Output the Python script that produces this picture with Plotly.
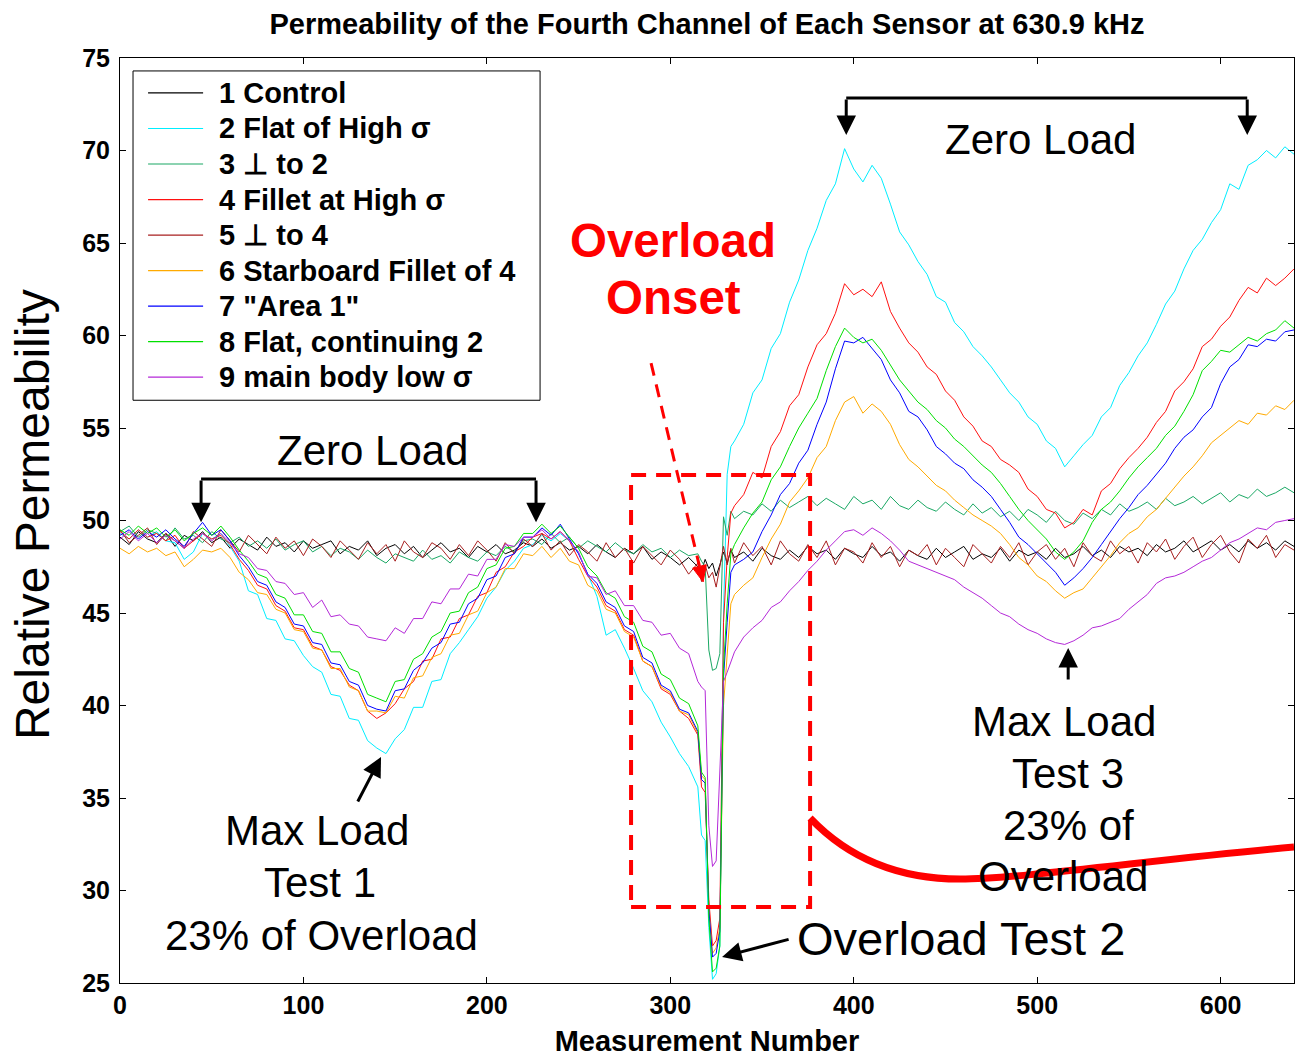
import plotly.graph_objects as go

# Measurement numbers: every 5th sample, finer sampling through the overload dip
measurement = (list(range(0, 316, 5))
               + [317, 319, 321, 323, 325, 327, 329, 331, 333]
               + list(range(335, 641, 5)))

control = [
    49.1, 48.7, 49.4, 49.0, 48.8, 49.3, 48.6, 49.2, 48.9, 49.4,
    48.8, 49.1, 48.5, 49.0, 48.7, 48.4, 49.1, 48.6, 48.8, 48.3,
    48.9, 48.5, 48.7, 48.9, 48.2, 48.6, 48.4, 48.9, 48.1, 48.5,
    48.7, 48.2, 48.6, 48.0, 48.4, 48.8, 48.3, 48.5, 48.0, 48.6,
    48.3, 48.7, 48.2, 48.4, 48.8, 48.6, 49.0, 48.5, 48.8, 48.4,
    48.6, 48.2, 48.7, 48.3, 48.0, 48.5, 48.2, 48.6, 47.9, 48.3,
    48.0, 47.6, 48.0, 47.5,
    47.3, 47.9, 47.4, 47.7, 47.0, 47.6, 48.3, 47.7, 48.4,
    48.0, 48.3, 47.8, 48.5, 48.1, 47.9, 48.4, 48.0, 48.6, 48.2,
    48.4, 47.9, 48.5, 48.2, 48.0, 48.6, 48.1, 48.3, 47.8, 48.4,
    48.1, 47.9, 48.5, 48.0, 48.3, 48.6, 47.9, 48.2, 48.0, 48.5,
    47.8, 48.4, 48.1, 48.3, 47.9, 48.5, 48.0, 48.2, 48.6, 48.1,
    48.4, 48.0, 48.6, 48.3, 48.5, 48.1, 48.7, 48.3, 48.5, 48.9,
    48.3, 48.6, 48.9, 48.4, 48.7, 48.3, 48.9, 48.5, 48.8, 48.4,
    48.9, 48.6,
]

flat_high = [
    49.3, 49.0, 49.5, 49.1, 49.4, 48.9, 48.8, 47.9, 48.3, 49.3,
    49.0, 49.3, 48.6, 47.8, 46.2, 46.0, 44.7, 44.6, 43.6, 43.5,
    42.7, 42.1, 41.8, 40.6, 40.5, 39.3, 39.2, 38.1, 37.7, 37.4,
    38.2, 38.7, 39.9, 39.9, 41.3, 41.4, 42.8, 43.4, 44.1, 44.8,
    45.8, 46.4, 47.3, 47.8, 48.5, 48.7, 49.2, 48.9, 49.3, 48.9,
    48.2, 47.1, 45.9, 43.8, 44.1, 43.1, 42.0, 40.8, 40.2, 39.1,
    38.3, 37.4, 36.7, 35.6,
    33.0, 32.7, 28.0, 25.2, 25.5, 27.0, 45.0, 52.5, 54.0,
    54.3, 55.2, 56.9, 57.6, 59.3, 60.1, 61.8, 63.0, 64.6, 65.8,
    67.3, 68.2, 70.1, 69.0, 68.3, 69.2, 68.5, 67.1, 65.6, 64.9,
    64.0, 63.3, 62.1, 61.8, 60.7, 60.2, 59.4, 58.9, 58.3, 57.6,
    56.9, 56.4, 55.6, 55.2, 54.3, 53.9, 52.9, 53.5, 54.1, 54.6,
    55.6, 56.1, 57.3, 58.0, 58.9, 59.6, 60.6, 61.7, 62.4, 63.6,
    64.6, 65.2, 66.1, 66.8, 68.2, 67.9, 69.2, 69.5, 70.0, 69.6,
    70.2, 69.8,
]

perp_to_2 = [
    49.4, 49.7, 49.1, 49.5, 49.3, 48.9, 49.6, 49.0, 49.2, 48.8,
    49.4, 49.0, 48.8, 49.1, 48.6, 48.9, 48.5, 49.0, 48.4, 48.7,
    48.9, 48.3, 48.6, 48.1, 48.5, 48.3, 47.9, 48.4, 48.0, 47.7,
    48.2, 48.0, 47.8, 48.4, 47.9, 48.1, 47.7, 48.3, 48.0, 47.8,
    48.3, 48.1, 48.6, 48.3, 48.9, 49.0, 48.7, 49.3, 48.8, 49.1,
    48.5, 48.9, 48.6, 48.3, 48.8, 48.4, 48.2, 48.7, 48.3, 48.5,
    48.0, 48.4, 48.1, 48.2,
    47.8, 47.5, 43.0, 41.9, 42.0, 42.8, 50.2, 49.2, 50.5,
    50.1, 50.5, 50.3, 50.9, 50.5, 51.1, 50.7, 51.0, 51.3, 50.8,
    51.2, 50.9, 50.6, 51.3, 50.9, 51.1, 50.6, 51.3, 50.8, 50.6,
    51.1, 50.7, 50.5, 51.0, 50.6, 50.3, 50.9, 50.4, 50.7, 50.2,
    50.5, 50.0, 50.6, 50.3, 49.9, 50.5, 50.0, 49.8, 50.4, 50.1,
    50.6, 50.3, 50.9, 50.5, 50.7, 51.0, 50.6, 51.2, 50.8, 51.0,
    51.3, 50.9, 51.2, 51.5, 51.0, 51.4, 51.2, 51.7, 51.3, 51.5,
    51.8, 51.5,
]

fillet_high = [
    49.4, 49.0, 49.5, 49.1, 49.3, 48.9, 49.2, 48.5, 48.9, 49.3,
    49.0, 49.2, 48.7, 47.9, 47.3, 46.5, 46.3, 45.4, 45.1, 44.2,
    44.1, 43.2, 43.0, 42.1, 41.9, 41.1, 40.8, 39.7, 39.3, 39.6,
    40.1, 40.9, 41.3, 42.4, 42.5, 43.6, 43.7, 44.7, 44.9, 45.9,
    46.1, 47.2, 47.5, 48.3, 48.6, 49.1, 49.3, 49.0, 49.4, 48.9,
    47.9, 47.0, 46.4, 45.4, 45.1, 44.1, 43.8, 42.4, 42.1, 40.9,
    40.6, 39.7, 39.3, 38.4,
    35.6, 35.3, 29.5, 27.0, 27.3, 28.5, 44.5, 48.0, 50.4,
    50.8, 51.4, 52.6, 52.3, 54.0, 54.8, 56.2, 56.8, 58.3, 59.5,
    60.1, 61.2, 62.8, 62.2, 62.5, 62.1, 62.9, 61.3, 60.4, 59.6,
    59.1, 58.3, 57.9, 57.0, 56.5, 55.6, 55.1, 54.3, 54.0, 53.3,
    53.0, 52.6, 51.7, 51.3, 50.6, 50.4, 49.6, 49.9, 50.6, 50.3,
    51.6, 52.0, 52.8, 53.4, 53.9, 54.5, 55.3, 55.9, 57.0, 57.5,
    58.2, 59.4, 59.8, 60.5, 61.0, 61.9, 62.6, 62.3, 63.1, 62.7,
    63.1, 63.6,
]

perp_to_4 = [
    49.5, 48.8, 49.2, 49.6, 48.7, 49.3, 48.9, 48.5, 49.4, 49.0,
    48.6, 49.5, 48.9, 48.3, 49.2, 48.7, 48.2, 49.1, 48.5, 48.9,
    48.1, 49.0, 48.6, 48.0, 48.9, 48.4, 47.9, 48.8, 48.2, 48.7,
    47.8, 48.9, 48.3, 48.0, 48.8, 48.5, 47.9, 48.7, 48.1, 48.9,
    48.4, 47.8, 48.8, 48.2, 49.0, 48.6, 49.3, 48.4, 48.9, 48.1,
    48.7, 48.3, 47.8, 48.8, 48.0, 48.5, 47.7, 48.6, 48.1, 47.6,
    48.4, 47.9, 47.1, 47.7,
    46.7, 47.6, 46.9, 47.2, 46.4, 47.5, 48.6, 47.6, 48.5,
    47.7, 48.8, 48.1, 48.6, 47.6, 48.9, 48.2, 47.8, 48.7, 48.0,
    48.9, 47.6, 48.5, 48.3, 47.7, 48.8, 48.0, 48.6, 47.5, 48.4,
    48.1, 48.7, 47.6, 48.5, 48.0, 47.5, 48.7, 48.2, 47.7, 48.6,
    48.0, 48.8, 47.6, 48.3, 48.7, 47.9, 48.5, 47.5, 48.8, 48.1,
    47.8, 48.9, 48.2, 48.6, 47.7, 48.8, 48.3, 49.0, 47.9, 48.6,
    49.1, 48.0, 48.7, 49.2, 48.3, 47.7, 49.0, 48.5, 49.2, 48.0,
    48.7, 48.4,
]

starboard_fillet = [
    48.5, 48.2, 48.6, 48.3, 48.5, 48.1, 48.3, 47.5, 47.9, 48.4,
    48.3, 48.5, 48.0, 47.2, 46.8, 46.1, 46.0, 45.2, 45.0, 44.1,
    44.0, 43.1, 43.0, 42.0, 42.0, 41.0, 40.8, 39.7, 39.7, 39.6,
    40.5, 40.4, 41.5, 41.6, 42.6, 42.8, 43.8, 43.9, 44.9, 45.1,
    46.1, 46.4, 47.4, 47.4, 48.2, 48.1, 48.6, 48.0, 48.5, 47.8,
    47.6, 46.5, 46.2, 45.2, 45.0, 44.0, 43.7, 42.4, 42.1, 41.0,
    40.7, 39.7, 39.5, 38.5,
    36.2, 36.0, 29.0, 26.6, 26.9, 28.0, 40.0, 42.5, 45.5,
    46.0, 46.5, 46.9, 48.0, 49.0, 49.8, 51.0, 51.6, 52.3, 53.4,
    54.0, 55.4, 56.4, 56.7, 55.8, 56.3, 55.9, 55.2, 54.1, 53.3,
    52.9, 52.4, 51.9, 51.6, 51.1, 50.7, 50.3, 50.0, 49.7, 49.3,
    48.7, 48.0, 47.6, 47.0, 46.7, 46.2, 45.8, 46.1, 46.3, 46.9,
    47.5, 48.1, 48.8, 49.3, 49.6, 50.2, 50.6, 51.2, 51.8, 52.4,
    52.9, 53.5, 54.2, 54.6, 55.0, 55.4, 55.2, 55.8, 55.7, 56.2,
    56.0, 56.5,
]

area_1 = [
    49.2, 49.5, 49.0, 49.4, 49.1, 49.5, 49.0, 48.6, 49.3, 49.9,
    49.2, 49.5, 48.9, 48.1, 47.5, 46.7, 46.5, 45.6, 45.3, 44.4,
    44.3, 43.4, 43.3, 42.3, 42.2, 41.3, 41.1, 40.0, 39.8, 39.7,
    40.8, 40.9, 41.9, 42.3, 43.1, 43.4, 44.4, 44.5, 45.5, 45.8,
    46.8, 47.0, 48.0, 48.2, 49.1, 49.1, 49.6, 49.2, 49.8, 49.0,
    48.2, 47.1, 46.6, 45.6, 45.3, 44.3, 44.0, 42.6, 42.3, 41.1,
    40.8, 39.8, 39.6, 38.6,
    36.0, 35.8, 29.0, 26.4, 26.6, 27.8, 41.5, 44.5, 47.2,
    47.6, 47.9, 48.3, 49.4, 50.3, 51.4, 52.0, 53.1, 53.8, 55.2,
    56.4, 58.2, 59.7, 59.6, 59.9, 59.3, 58.7, 57.6, 56.9, 55.9,
    55.6, 54.9, 54.0, 53.6, 53.1, 52.8, 52.2, 51.8, 51.3, 50.6,
    49.9, 49.1, 48.7, 48.2, 47.7, 47.2, 46.5, 46.9, 47.4, 48.0,
    48.7, 49.4, 50.1, 50.7, 51.4, 51.9, 52.5, 53.1, 53.9, 54.5,
    54.9, 55.6, 56.1, 57.4, 58.3, 58.7, 59.5, 59.4, 59.8, 59.7,
    60.2, 60.3,
]

flat_continuing = [
    49.5, 49.2, 49.7, 49.3, 49.6, 49.1, 49.5, 48.9, 49.3, 49.6,
    49.2, 49.7, 49.1, 48.4, 47.8, 47.1, 46.9, 46.0, 45.8, 44.9,
    44.9, 44.0, 43.9, 42.9, 42.9, 42.0, 41.8, 40.6, 40.4, 40.2,
    41.3, 41.4, 42.5, 42.8, 43.7, 44.0, 45.0, 45.1, 46.1, 46.4,
    47.4, 47.6, 48.5, 48.6, 49.3, 49.3, 49.8, 49.3, 49.7, 49.1,
    48.5, 47.5, 47.0, 46.1, 45.8, 44.8, 44.5, 43.2, 42.9, 41.7,
    41.4, 40.4, 40.1, 38.9,
    36.4, 36.1, 28.5, 25.6, 25.8, 27.0, 42.0, 45.5, 48.2,
    48.7, 49.6, 50.4, 51.0, 52.2, 52.9, 54.0, 55.0, 55.8, 56.6,
    58.1, 59.4, 60.4, 59.9, 59.6, 59.8, 59.2, 58.4, 57.6, 57.0,
    56.4, 56.0, 55.4, 55.0, 54.4, 54.0, 53.5, 53.0, 52.6, 52.0,
    51.3, 50.6, 50.0, 49.5, 49.0, 48.3, 47.9, 48.3, 48.9, 49.9,
    50.6, 51.0, 51.6, 52.3, 52.9, 53.4, 53.9, 54.6, 55.1, 55.9,
    56.8, 58.1, 58.6, 59.2, 59.1, 59.5, 59.9, 59.7, 60.1, 60.3,
    60.8, 60.4,
]

main_body_low = [
    49.0, 49.4, 48.9, 49.3, 48.8, 49.2, 48.9, 48.5, 49.0, 49.3,
    48.9, 49.3, 48.8, 48.2, 48.0, 47.4, 47.3, 46.7, 46.6, 46.0,
    46.1, 45.3, 45.7, 44.8, 44.9, 44.4, 44.3, 43.7, 43.6, 43.5,
    44.2, 43.9, 44.7, 44.7, 45.6, 45.5, 46.3, 46.3, 47.1, 47.0,
    47.9, 47.9, 48.7, 48.6, 49.1, 49.1, 49.5, 49.0, 49.4, 48.9,
    48.3, 47.0, 46.9, 46.0, 46.2, 45.4, 45.4, 44.6, 44.5, 43.8,
    43.9, 43.1, 42.8, 41.3,
    41.0, 40.8, 33.5, 31.3, 31.6, 36.0, 41.3, 41.8, 42.4,
    42.9, 43.7, 44.2, 44.6, 45.3, 45.6, 46.2, 46.7, 47.3, 47.8,
    48.4, 48.9, 49.4, 49.5, 49.2, 49.6, 49.3, 48.9, 48.4, 47.8,
    47.6, 47.4, 47.2, 47.0, 46.8, 46.4, 46.1, 45.8, 45.4, 45.0,
    44.8, 44.4, 44.1, 43.9, 43.6, 43.4, 43.3, 43.5, 43.8, 44.2,
    44.3, 44.5, 44.7, 45.2, 45.6, 46.0, 46.6, 46.9, 47.0, 47.2,
    47.5, 47.8, 48.0, 48.4, 48.8, 49.0, 49.3, 49.6, 49.5, 49.9,
    50.0, 50.1,
]

sensor_names = [
    "1 Control",
    "2 Flat of High σ",
    "3 ⊥ to 2",
    "4 Fillet at High σ",
    "5 ⊥ to 4",
    "6 Starboard Fillet of 4",
    "7 \"Area 1\"",
    "8 Flat, continuing 2",
    "9 main body low σ",
]
sensor_series = [control, flat_high, perp_to_2, fillet_high, perp_to_4,
                 starboard_fillet, area_1, flat_continuing, main_body_low]
sensor_colors = ["#000000", "#00EEFF", "#1AA864", "#FF1010", "#A82020",
                 "#FFAA00", "#0000FF", "#00E000", "#B428D8"]

for s in sensor_series:
    assert len(s) == len(measurement), len(s)

FONT = "Liberation Sans, Arial, sans-serif"

fig = go.Figure()
for name, vals, col in zip(sensor_names, sensor_series, sensor_colors):
    fig.add_trace(go.Scatter(x=measurement, y=vals, mode="lines", name=name,
                             line=dict(color=col, width=1), showlegend=False))

shapes = []
annotations = []

# ---- legend box drawn in data units (axes are fixed) ----
shapes.append(dict(type="rect", xref="x", yref="y", x0=7.1, x1=229.0, y0=56.5, y1=74.3,
                   line=dict(color="black", width=1), fillcolor="white", layer="above"))
legend_top, legend_step = 73.11, 1.92
for i, (name, col) in enumerate(zip(sensor_names, sensor_colors)):
    yy = legend_top - i * legend_step
    shapes.append(dict(type="line", xref="x", yref="y", x0=15.3, x1=45.3, y0=yy, y1=yy,
                       line=dict(color=col, width=1.2)))
    annotations.append(dict(x=53.0, y=yy, xref="x", yref="y", text=name, showarrow=False,
                            xanchor="left", yanchor="middle",
                            font=dict(family=FONT, size=29, color="black", weight="bold")))


def arrow(x_tip, y_tip, x_tail, y_tail, color="black", width=3):
    annotations.append(dict(x=x_tip, y=y_tip, ax=x_tail, ay=y_tail, xref="x", yref="y",
                            axref="x", ayref="y", text="", showarrow=True, arrowhead=2,
                            arrowsize=1.3, arrowwidth=width, arrowcolor=color, standoff=0))


def label(x, y, text, size=42, color="black", bold=False):
    annotations.append(dict(x=x, y=y, xref="x", yref="y", text=text, showarrow=False,
                            xanchor="center", yanchor="middle",
                            font=dict(family=FONT, size=size, color=color,
                                      weight="bold" if bold else "normal")))


# ---- Zero-load brackets ----
bracket = dict(color="black", width=3)
shapes.append(dict(type="line", xref="x", yref="y", x0=44.2, x1=226.8, y0=52.24, y1=52.24, line=bracket))
arrow(44.2, 49.9, 44.2, 52.24)
arrow(226.8, 49.9, 226.8, 52.24)
label(137.4, 53.8, "Zero Load")

shapes.append(dict(type="line", xref="x", yref="y", x0=395.9, x1=614.5, y0=72.84, y1=72.84, line=bracket))
arrow(395.9, 70.84, 395.9, 72.84)
arrow(614.5, 70.84, 614.5, 72.84)
label(501.6, 70.57, "Zero Load")

# ---- Overload onset call-out ----
label(301.5, 65.16, "Overload", size=47.5, color="#FF0000", bold=True)
label(301.5, 62.08, "Onset", size=47.5, color="#FF0000", bold=True)
shapes.append(dict(type="line", xref="x", yref="y", x0=289.5, y0=58.51, x1=315.9, y1=47.52,
                   line=dict(color="#FF0000", width=3, dash="13px,9px")))
shapes.append(dict(type="path", xref="x", yref="y",
                   path="M 317.9,46.68 L 319.6,47.61 L 312.2,47.43 Z",
                   fillcolor="#FF0000", line=dict(color="#FF0000", width=1)))
shapes.append(dict(type="rect", xref="x", yref="y", x0=278.6, x1=376.2, y0=29.11, y1=52.46,
                   line=dict(color="#FF0000", width=4, dash="15px,10px")))

# thick red trend curve (two cubic Bezier segments)
curve_path = ("M 376.2,33.92 C 398.0,31.65 425.3,30.62 458.0,30.62 "
              "C 490.7,30.62 561.6,31.65 640.0,32.35")
shapes.append(dict(type="path", xref="x", yref="y", path=curve_path,
                   line=dict(color="#FF0000", width=7)))

# ---- load test labels ----
label(107.4, 33.22, "Max Load")
label(109.1, 30.41, "Test 1")
label(110.1, 27.59, "23% of Overload")
arrow(142.3, 37.22, 129.2, 34.73)

label(514.7, 39.11, "Max Load")
label(516.9, 36.35, "Test 3")
label(516.9, 33.54, "23% of")
label(514.2, 30.78, "Overload")
arrow(516.9, 43.11, 516.9, 41.32)

label(458.5, 27.43, "Overload Test 2", size=47)
arrow(328.2, 26.41, 365.3, 27.38)

# y-axis title as a rotated annotation
annotations.append(dict(x=-0.074, y=0.506, xref="paper", yref="paper", text="Relative Permeability",
                        textangle=-90, showarrow=False, xanchor="center", yanchor="middle",
                        font=dict(family=FONT, size=48, color="black")))

axis_common = dict(showline=True, linecolor="black", linewidth=1, mirror="ticks",
                   ticks="inside", ticklen=6, tickcolor="black", showgrid=False, zeroline=False,
                   tickfont=dict(family=FONT, size=25, color="black", weight="bold"))

fig.update_layout(
    width=1295, height=1057,
    margin=dict(l=120, r=1, t=58, b=74),
    paper_bgcolor="white", plot_bgcolor="white",
    showlegend=False,
    title=dict(text="Permeability of the Fourth Channel of Each Sensor at 630.9 kHz",
               x=0.5, xref="paper", xanchor="center", y=1 - 24 / 1057, yref="container",
               yanchor="middle", font=dict(family=FONT, size=29, color="black", weight="bold")),
    xaxis=dict(range=[0, 640], tickvals=[0, 100, 200, 300, 400, 500, 600],
               title=dict(text="Measurement Number", standoff=12,
                          font=dict(family=FONT, size=29, color="black", weight="bold")),
               **axis_common),
    yaxis=dict(range=[25, 75], dtick=5, ticklabelstandoff=4, **axis_common),
    shapes=shapes,
    annotations=annotations,
)

fig.write_html("out.html")
